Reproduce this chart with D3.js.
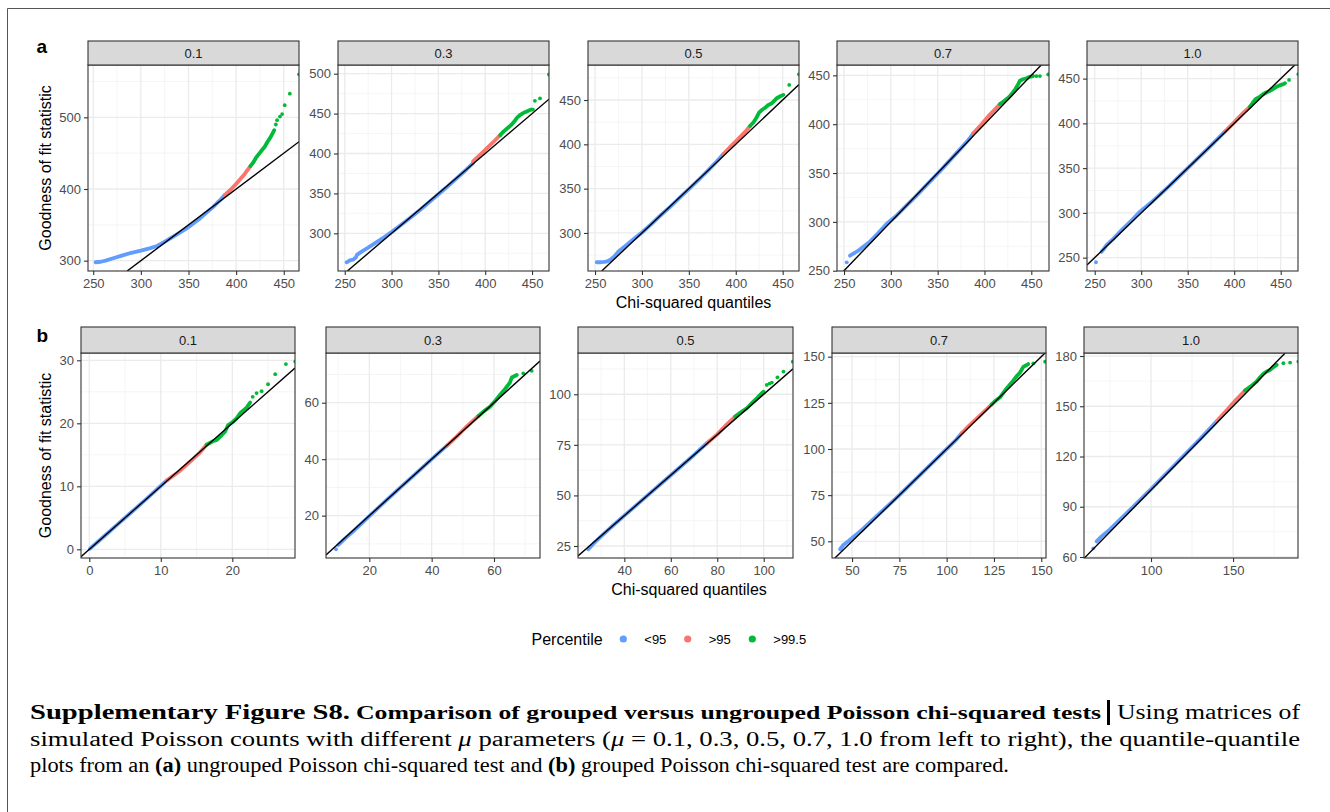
<!DOCTYPE html>
<html>
<head>
<meta charset="utf-8">
<script src="https://cdn.jsdelivr.net/npm/d3@7"></script>
<style>
  body { margin: 0; background: #fff; }
  svg { display: block; }
  .sans { font-family: "Liberation Sans", Arial, sans-serif; }
  .serif { font-family: "Liberation Serif", "Times New Roman", serif; }
</style>
</head>
<body>
<svg id="fig" width="1330" height="812"></svg>
<script>
// facet labels (mu parameter)
var mu = ["0.1", "0.3", "0.5", "0.7", "1.0"];

// ---- row a : ungrouped test ----
var aXDomains = [[244.5, 466], [242.8, 468.1], [242.5, 467.4], [242.5, 468.9], [241.7, 468.6]];
var aYDomains = [[285.6, 573], [252.8, 510.9], [257.1, 489.5], [249.7, 460.6], [235.1, 465.2]];
var aXTicks = [[250, 300, 350, 400, 450], [250, 300, 350, 400, 450], [250, 300, 350, 400, 450], [250, 300, 350, 400, 450], [250, 300, 350, 400, 450]];
var aYTicks = [[300, 400, 500], [300, 350, 400, 450, 500], [300, 350, 400, 450], [250, 300, 350, 400, 450], [250, 300, 350, 400, 450]];

// quantile curves: [chi-squared quantile, statistic]
var aBlue = [
  [[252.5,297.8],[258,298.5],[263,300],[270,303],[280,307],[290,311],[300,314],[310,317.5],[317,320.5],[322,324],[327,328],[333,333],[340,338.5],[348,345],[355,352],[362,359],[369,367],[376,375],[382,383],[388,391.5]],
  [[252,263.7],[256,266.5],[259,267],[262,270],[263,273],[268,277],[275,282],[284,289],[292,295],[300,301.5],[310,310.5],[320,319.5],[330,329],[340,339],[350,349],[360,359],[370,369.5],[380,380],[387,388]],
  [[251.8,267],[256,267],[260,267.3],[263,268],[266,269.5],[270,273],[275,279],[282,285],[290,292],[300,300.5],[310,310],[320,320],[330,329.5],[340,339.5],[350,349.5],[360,359.5],[370,370],[380,381],[386.7,389]],
  [[256.4,265.4],[259,267],[261.7,268.4],[266,271],[270.6,274.6],[278,280],[286,288],[295.6,298],[305,305.5],[315,315],[325,324.5],[335,334.5],[345,344.5],[355,354.5],[365,365],[375,375.5],[383,384],[388,390.6]],
  [[257.5,256.7],[260,260],[262.9,264.2],[270,271],[280,282],[290,292],[298.7,301.4],[310,311],[320,320.5],[330,330],[340,340],[350,350],[360,360],[370,370],[380,380.5],[390,390.8]]
];
var aRed = [
  [[388,391.5],[395,400],[402,410],[409,421],[415,432]],
  [[387,390],[395,399],[403,408],[410,416],[416,423]],
  [[386.7,389],[395,398],[403,406.5],[410,414],[415.2,420.7]],
  [[388,390.6],[396,399],[404,408],[410,414],[416.5,420.6]],
  [[390,390.8],[397,398],[404,405.5],[410,412],[417,418.7]]
];
var aGreen = [
  [[415,432],[418,437],[421,444],[424,449],[427,454],[430,459],[433,466],[436,472],[438,477],[440,482]],
  [[416,423],[420,428],[424,432],[428,436],[431,440],[434,445],[437,448],[441,451],[445,453],[449,455],[451,455]],
  [[415.2,420.7],[419,425],[422,430],[425,436],[428,439],[431,441],[434.7,444.4],[438,446],[441,449],[443.6,452],[447,454],[450.7,455.8]],
  [[416.5,420.6],[420,423],[424,426],[427.2,428.8],[430,432],[433,436],[436,441],[437.9,444.5],[441,446],[445,447],[448,448.5],[452,449.3]],
  [[417,418.7],[420,423],[423,427],[427.8,430],[431,432.5],[434.5,434.5],[438.5,436.3],[442,438.5],[445.7,441],[449,442.5],[452,443.5],[454.6,444.8]]
];
// single scattered points
var aBlueDots = [[], [], [], [[252.9,258.6]], [[251.4,244.9]]];
var aGreenDots = [
  [[441.7,490],[443,496],[446,501],[448.3,504.6],[451,517],[456.4,533],[466,560]],
  [[453,466],[458.5,469],[468,499]],
  [[457,467],[467.3,479]],
  [[455.5,449.3],[459.2,449.3],[468,451]],
  [[459,448.5],[469,455]]
];

// ---- row b : grouped test ----
var bXDomains = [[-1.16, 28.77], [6.1, 74.76], [20.06, 112.6], [39.4, 152.5], [59.15, 189.6]];
var bYDomains = [[-1.38, 31.16], [5.0, 77.6], [19.07, 120.4], [40.96, 152], [59.4, 181.8]];
var bXTicks = [[0, 10, 20], [20, 40, 60], [40, 60, 80, 100], [50, 75, 100, 125, 150], [100, 150]];
var bYTicks = [[0, 10, 20, 30], [20, 40, 60], [25, 50, 75, 100], [50, 75, 100, 125, 150], [60, 90, 120, 150, 180]];

var bBlue = [
  [[0.1,0.1],[2,2],[4,4],[6,6],[8,8],[10.8,10.9]],
  [[10.05,9.6],[12,11.7],[15,14.6],[20,19.8],[25,25],[30,30],[35,35],[40,40],[44.8,44.7]],
  [[24.5,23.4],[27,26.5],[30,29.8],[35,35],[40,40],[50,50],[60,60],[70,70],[75.5,75.8]],
  [[43.7,45.7],[45.4,48],[48,50],[55,56],[65,65.5],[75,75],[85,85],[95,95],[105,105],[107.9,108.5]],
  [[66.9,69.3],[69.9,72.3],[75,76.5],[85,86],[100,100.5],[115,115.5],[130,130.5],[140,141]]
];
var bRed = [
  [[10.8,10.9],[12.5,12.3],[14,13.8],[15.5,15.4],[16.4,16.6]],
  [[44.8,44.7],[48,48],[51,51.3],[55,55.3]],
  [[75.5,75.8],[80,80.2],[84,85],[87.7,89]],
  [[107.9,108.5],[112,112.8],[118,118.5],[123.8,124.2]],
  [[140,141],[146,147.5],[152,154],[157.3,159.4]]
];
var bGreen = [
  [[16.4,16.6],[17.2,17.1],[17.8,17.35],[18.5,18.1],[19,18.7],[19.4,19.7],[20.1,20.25],[20.6,20.8],[21.1,21.6],[21.6,22.1],[22,22.5],[22.5,23.3]],
  [[55,55.3],[57,57.2],[58.7,58.6],[60.5,60.8],[61.9,62.7],[63.5,64.8],[65.1,67.1],[65.7,68.9],[67.3,69.8]],
  [[87.7,89],[90,91],[92.7,93.1],[95,95.8],[97,98],[99,100.3],[99.9,101.3]],
  [[123.8,124.2],[126,126.3],[128.2,128],[130,130.5],[131.7,132.8],[133.5,135],[135.2,137],[137,139.5],[138.7,141.3],[140.5,144.5],[143.1,146]],
  [[157.3,159.4],[161,162],[164.4,164.8],[166.5,167.3],[168.5,169.4],[170.5,170.8],[172.6,171.7],[174.5,173.3],[176.6,174.7]]
];
var bBlueDots = [[], [[9.3,8.1]], [], [], [[64.8,65.2]]];
var bGreenDots = [
  [[22.85,24.2],[23.4,24.8],[24.1,25.1],[25,26.2],[26,27.8],[27.5,29.4],[28.8,29.8]],
  [[69.4,70.4],[72.1,71.3]],
  [[101.3,104.6],[102.5,105.3],[103.5,105.8],[105.9,108.4],[108.5,111.2],[112.5,116.1]],
  [[145.8,146.4],[152,147.3]],
  [[180.7,175.7],[184.8,176.1],[189.8,176.7]]
];

var legendLabels = ["<95", ">95", ">99.5"];
var colours = ["#619CFF", "#F8766D", "#00BA38"];

var svg = d3.select("#fig");
svg.append("rect").attr("width", 1330).attr("height", 812).attr("fill", "#fff");

// thin frame round the figure
svg.append("path").attr("d", "M7.5,812 V8.5 H1330").attr("fill", "none").attr("stroke", "#555").attr("stroke-width", 1);

var rows = [
  {tag: "a", tagY: 53, top: 41, strip: 24, bottom: 271,
   lefts: [88, 338, 588, 837, 1087], widths: [211, 211, 211, 212, 211],
   xDom: aXDomains, yDom: aYDomains, xTicks: aXTicks, yTicks: aYTicks,
   series: [aBlue, aRed, aGreen], blueDots: aBlueDots, greenDots: aGreenDots,
   xPad: 3.5, xTitleX: 693.5, xTitleY: 308},
  {tag: "b", tagY: 342, top: 327, strip: 26, bottom: 558,
   lefts: [81, 326, 578, 832, 1084], widths: [214, 214, 215, 214, 214],
   xDom: bXDomains, yDom: bYDomains, xTicks: bXTicks, yTicks: bYTicks,
   series: [bBlue, bRed, bGreen], blueDots: bBlueDots, greenDots: bGreenDots,
   xPad: 4, xTitleX: 689, xTitleY: 595}
];

function minorOf(ticks, dom) {
  var step = ticks[1] - ticks[0], out = [];
  var cand = [ticks[0] - step / 2];
  for (var k = 0; k < ticks.length; k++) cand.push(ticks[k] + step / 2);
  cand.forEach(function(v) { if (v > dom[0] && v < dom[1]) out.push(v); });
  return out;
}

rows.forEach(function(row, r) {
  var ptop = row.top + row.strip;

  row.lefts.forEach(function(left, i) {
    var w = row.widths[i];
    var x = d3.scaleLinear().domain(row.xDom[i]).range([left, left + w]);
    var y = d3.scaleLinear().domain(row.yDom[i]).range([row.bottom, ptop]);
    var g = svg.append("g").attr("class", "sans");
    var clipId = "clip" + r + "_" + i;

    g.append("clipPath").attr("id", clipId).append("rect")
      .attr("x", left).attr("y", ptop).attr("width", w).attr("height", row.bottom - ptop);

    g.append("rect").attr("x", left).attr("y", ptop).attr("width", w)
      .attr("height", row.bottom - ptop).attr("fill", "#fff");

    // grid
    var grid = g.append("g").attr("fill", "none");
    minorOf(row.xTicks[i], row.xDom[i]).forEach(function(v) {
      grid.append("line").attr("x1", x(v)).attr("x2", x(v)).attr("y1", ptop).attr("y2", row.bottom)
        .attr("stroke", "#F0F0F0").attr("stroke-width", 0.7);
    });
    minorOf(row.yTicks[i], row.yDom[i]).forEach(function(v) {
      grid.append("line").attr("y1", y(v)).attr("y2", y(v)).attr("x1", left).attr("x2", left + w)
        .attr("stroke", "#F0F0F0").attr("stroke-width", 0.7);
    });
    row.xTicks[i].forEach(function(v) {
      grid.append("line").attr("x1", x(v)).attr("x2", x(v)).attr("y1", ptop).attr("y2", row.bottom)
        .attr("stroke", "#EBEBEB").attr("stroke-width", 1.3);
    });
    row.yTicks[i].forEach(function(v) {
      grid.append("line").attr("y1", y(v)).attr("y2", y(v)).attr("x1", left).attr("x2", left + w)
        .attr("stroke", "#EBEBEB").attr("stroke-width", 1.3);
    });

    var marks = g.append("g").attr("clip-path", "url(#" + clipId + ")");
    var line = d3.line().x(function(d) { return x(d[0]); }).y(function(d) { return y(d[1]); });

    row.series.forEach(function(s, c) {
      marks.append("path").datum(s[i]).attr("d", line)
        .attr("fill", "none").attr("stroke", colours[c]).attr("stroke-width", 3.8)
        .attr("stroke-linecap", "round").attr("stroke-linejoin", "round");
    });
    marks.selectAll("circle.b").data(row.blueDots[i]).enter().append("circle")
      .attr("cx", function(d) { return x(d[0]); }).attr("cy", function(d) { return y(d[1]); })
      .attr("r", 1.9).attr("fill", colours[0]);
    marks.selectAll("circle.g").data(row.greenDots[i]).enter().append("circle")
      .attr("cx", function(d) { return x(d[0]); }).attr("cy", function(d) { return y(d[1]); })
      .attr("r", 1.9).attr("fill", colours[2]);

    // identity line
    var lo = Math.max(row.xDom[i][0], row.yDom[i][0]);
    var hi = Math.min(row.xDom[i][1], row.yDom[i][1]);
    marks.append("line").attr("x1", x(lo)).attr("y1", y(lo)).attr("x2", x(hi)).attr("y2", y(hi))
      .attr("stroke", "#000").attr("stroke-width", 1.4);

    g.append("rect").attr("x", left).attr("y", ptop).attr("width", w)
      .attr("height", row.bottom - ptop).attr("fill", "none").attr("stroke", "#333").attr("stroke-width", 1.1);

    // strip
    g.append("rect").attr("x", left).attr("y", row.top).attr("width", w).attr("height", row.strip)
      .attr("fill", "#D9D9D9").attr("stroke", "#333").attr("stroke-width", 1.1);
    g.append("text").attr("x", left + w / 2).attr("y", row.top + row.strip / 2 + 4.5)
      .attr("text-anchor", "middle").attr("font-size", 13).attr("fill", "#1A1A1A").text(mu[i]);

    // axes
    var xa = g.append("g").attr("transform", "translate(0," + row.bottom + ")")
      .call(d3.axisBottom(x).tickValues(row.xTicks[i]).tickSize(4).tickPadding(row.xPad).tickFormat(d3.format("d")));
    var ya = g.append("g").attr("transform", "translate(" + left + ",0)")
      .call(d3.axisLeft(y).tickValues(row.yTicks[i]).tickSize(4).tickPadding(3).tickFormat(d3.format("d")));
    [xa, ya].forEach(function(a) {
      a.attr("font-family", null);
      a.select(".domain").remove();
      a.selectAll(".tick line").attr("stroke", "#333").attr("stroke-width", 1.1);
      a.selectAll(".tick text").attr("fill", "#4D4D4D").attr("font-size", 13);
    });
  });

  // axis titles and tag
  var midY = (ptop + row.bottom) / 2;
  svg.append("text").attr("class", "sans").attr("transform", "translate(51," + midY + ") rotate(-90)")
    .attr("text-anchor", "middle").attr("font-size", 16).attr("fill", "#000")
    .text("Goodness of fit statistic");
  svg.append("text").attr("class", "sans").attr("x", row.xTitleX).attr("y", row.xTitleY)
    .attr("text-anchor", "middle").attr("font-size", 16).attr("fill", "#000")
    .text("Chi-squared quantiles");
  svg.append("text").attr("class", "sans").attr("x", 36.5).attr("y", row.tagY)
    .attr("font-size", 19).attr("font-weight", "bold").attr("fill", "#000").text(row.tag);
});

// legend
var leg = svg.append("g").attr("class", "sans");
leg.append("text").attr("x", 531.5).attr("y", 644.5).attr("font-size", 16).text("Percentile");
var legX = [623.3, 687.7, 752.3];
legendLabels.forEach(function(lab, k) {
  leg.append("circle").attr("cx", legX[k]).attr("cy", 639).attr("r", 3.6).attr("fill", colours[k]);
  leg.append("text").attr("x", legX[k] + 21).attr("y", 643.5).attr("font-size", 13).text(lab);
});

// caption
var cap = svg.append("g").attr("class", "serif").attr("fill", "#000");
cap.append("text").attr("x", 30).attr("y", 719).attr("font-weight", "bold")
  .attr("font-size", 21).attr("textLength", 320).attr("lengthAdjust", "spacingAndGlyphs")
  .text("Supplementary Figure S8.");
cap.append("text").attr("x", 356).attr("y", 719).attr("font-weight", "bold")
  .attr("font-size", 19.5).attr("textLength", 745).attr("lengthAdjust", "spacingAndGlyphs")
  .text("Comparison of grouped versus ungrouped Poisson chi-squared tests");
cap.append("rect").attr("x", 1107).attr("y", 700).attr("width", 3).attr("height", 25);
cap.append("text").attr("x", 1117).attr("y", 719)
  .attr("font-size", 20.5).attr("textLength", 183).attr("lengthAdjust", "spacingAndGlyphs")
  .text("Using matrices of");

var l2 = cap.append("text").attr("x", 30).attr("y", 746)
  .attr("font-size", 20.5).attr("textLength", 1270).attr("lengthAdjust", "spacingAndGlyphs");
l2.append("tspan").text("simulated Poisson counts with different ");
l2.append("tspan").attr("font-style", "italic").text("μ");
l2.append("tspan").text(" parameters (");
l2.append("tspan").attr("font-style", "italic").text("μ");
l2.append("tspan").text(" = 0.1, 0.3, 0.5, 0.7, 1.0 from left to right), the quantile-quantile");

var l3 = cap.append("text").attr("x", 30).attr("y", 772)
  .attr("font-size", 20.5).attr("textLength", 979).attr("lengthAdjust", "spacingAndGlyphs");
l3.append("tspan").text("plots from an ");
l3.append("tspan").attr("font-weight", "bold").text("(a)");
l3.append("tspan").text(" ungrouped Poisson chi-squared test and ");
l3.append("tspan").attr("font-weight", "bold").text("(b)");
l3.append("tspan").text(" grouped Poisson chi-squared test are compared.");
</script>
</body>
</html>
